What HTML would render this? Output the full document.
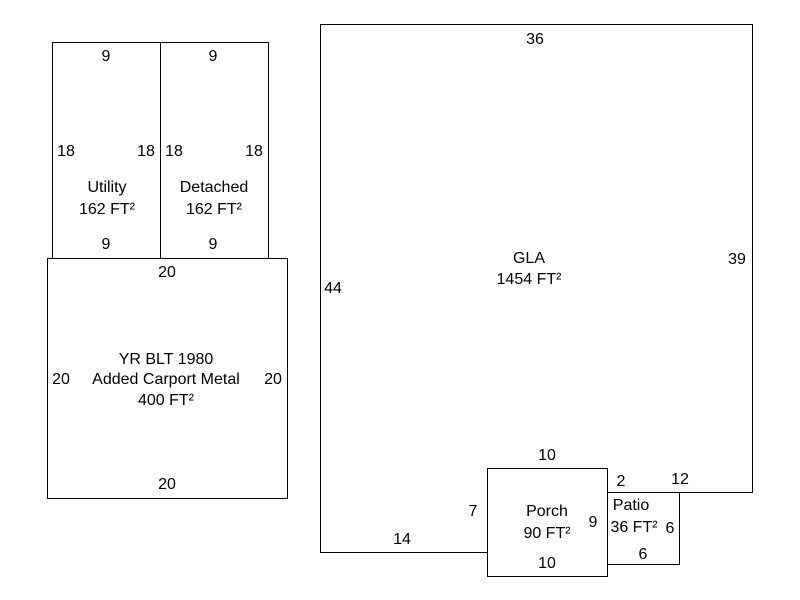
<!DOCTYPE html>
<html><head><style>body{margin:0;background:#fff}svg{display:block}</style></head>
<body>
<svg width="800" height="600" xmlns="http://www.w3.org/2000/svg" font-family="Liberation Sans, Arial, sans-serif" font-size="16" fill="#000">
<g fill="none" stroke="#000" stroke-width="1">
<rect x="52.5" y="42.5" width="108" height="216"/>
<rect x="160.5" y="42.5" width="108" height="216"/>
<rect x="47.5" y="258.5" width="240" height="240"/>
<polyline points="487.5,552.5 320.5,552.5 320.5,24.5 752.5,24.5 752.5,492.5 607.5,492.5"/>
<rect x="487.5" y="468.5" width="120" height="108"/>
<rect x="607.5" y="492.5" width="72" height="72"/>
</g>
<g text-anchor="middle">
<text x="106" y="61">9</text><text x="213" y="61">9</text>
<text x="66" y="156">18</text><text x="146" y="156">18</text>
<text x="174" y="156">18</text><text x="254" y="156">18</text>
<text x="107" y="192">Utility</text><text x="107" y="214">162 FT²</text>
<text x="214" y="192">Detached</text><text x="214" y="214">162 FT²</text>
<text x="106" y="249">9</text><text x="213" y="249">9</text>
<text x="167" y="277">20</text>
<text x="61" y="384">20</text><text x="273" y="384">20</text>
<text x="166" y="364">YR BLT 1980</text><text x="166" y="384">Added Carport Metal</text><text x="166" y="405">400 FT²</text>
<text x="167" y="489">20</text>
<text x="535" y="44">36</text>
<text x="333" y="293">44</text>
<text x="737" y="264">39</text>
<text x="529" y="263">GLA</text><text x="529" y="284">1454 FT²</text>
<text x="547" y="460">10</text>
<text x="621" y="486">2</text><text x="680" y="484">12</text>
<text x="473" y="516">7</text>
<text x="547" y="516">Porch</text><text x="547" y="538">90 FT²</text>
<text x="593" y="527">9</text>
<text x="631" y="510">Patio</text><text x="634" y="532">36 FT²</text>
<text x="670" y="533">6</text>
<text x="643" y="559">6</text>
<text x="402" y="544">14</text>
<text x="547" y="568">10</text>
</g>
</svg>
</body></html>
